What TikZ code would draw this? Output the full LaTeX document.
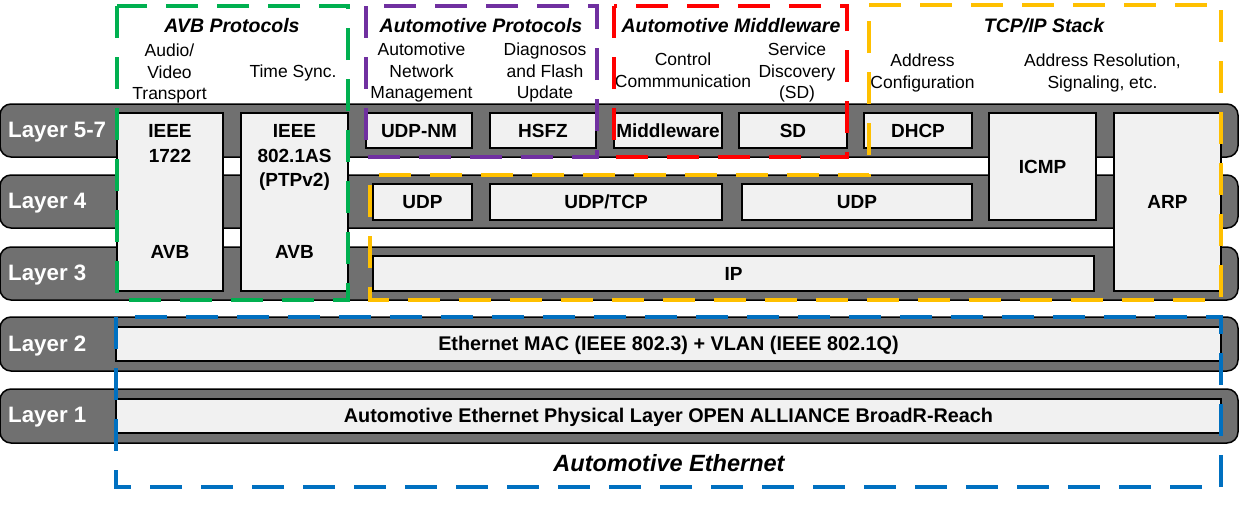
\documentclass[tikz,border=0pt]{standalone}
\usepackage{fontspec}
\setmainfont{Liberation Sans}
\usetikzlibrary{positioning}

\definecolor{bandgray}{HTML}{707070}
\definecolor{boxgray}{HTML}{F1F1F1}
\definecolor{avbgreen}{HTML}{00B050}
\definecolor{protpurple}{HTML}{7030A0}
\definecolor{mwred}{HTML}{FF0000}
\definecolor{tcporange}{HTML}{FFC000}
\definecolor{ethblue}{HTML}{0070C0}

\begin{document}
\begin{tikzpicture}[x=1pt,y=-1pt,
    band/.style={draw=black, line width=1.5pt, fill=bandgray, rounded corners=11pt},
    layer/.style={anchor=base west, text=white, inner sep=0pt,
        font=\fontsize{22.3}{26}\selectfont\bfseries},
    blk/.style={draw=black, line width=1.3pt, fill=boxgray, inner sep=0pt,
        text height=13.6pt, text depth=0pt,
        font=\fontsize{19}{24}\selectfont\bfseries},
    wideblk/.style={blk, font=\fontsize{19.8}{24}\selectfont\bfseries},
    blktext/.style={inner sep=0pt, align=center,
        font=\fontsize{19}{24.5}\selectfont\bfseries},
    head/.style={anchor=base, inner sep=0pt,
        font=\fontsize{19.5}{24}\selectfont\bfseries\itshape},
    sub/.style={anchor=north, inner sep=0pt, align=center,
        font=\fontsize{17.5}{21.5}\selectfont},
    grp/.style={line width=3.5pt, dash pattern=on 32pt off 19pt}]
\useasboundingbox (0,0) rectangle (1240,522);

% layer bands
\draw[band] (0,104) rectangle (1238,157);
\draw[band] (0,175) rectangle (1238,228);
\draw[band] (0,247) rectangle (1238,300);
\draw[band] (0,317) rectangle (1238,371);
\draw[band] (0,389) rectangle (1238,443);
\node[layer] (l57) at (8,137) {Layer 5-7};
\node[layer] (l4) at (8,208) {Layer 4};
\node[layer] (l3) at (8,280) {Layer 3};
\node[layer] (l2) at (8,351) {Layer 2};
\node[layer] (l1) at (8,422) {Layer 1};

% AVB stack
\node[blk, minimum width=106pt, minimum height=178pt] (avbA) at (170,202) {};
\node[blktext, below=12pt of avbA.north] (avbAtop) {IEEE\\1722};
\node[blktext, above=33pt of avbA.south] (avbAbot) {AVB};
\node[blk, minimum width=107pt, minimum height=178pt] (avbB) at (294.5,202) {};
\node[blktext, below=12pt of avbB.north] (avbBtop) {IEEE\\802.1AS\\(PTPv2)};
\node[blktext, above=33pt of avbB.south] (avbBbot) {AVB};

% layer 5-7 blocks
\node[blk, minimum width=106pt, minimum height=35pt] (udpnm) at (419,130.5) {UDP-NM};
\node[blk, minimum width=106pt, minimum height=35pt] (hsfz) at (543,130.5) {HSFZ};
\node[blk, minimum width=108pt, minimum height=35pt] (mw) at (668,130.5) {Middleware};
\node[blk, minimum width=108pt, minimum height=35pt] (sd) at (793,130.5) {SD};
\node[blk, minimum width=108pt, minimum height=35pt] (dhcp) at (918,130.5) {DHCP};
\node[blk, minimum width=107pt, minimum height=107pt] (icmp) at (1042.5,166.5) {ICMP};
\node[blk, minimum width=107pt, minimum height=178pt] (arp) at (1167.5,202) {ARP};

% layer 4 and 3 blocks
\node[blk, minimum width=99pt, minimum height=36pt] (udpA) at (422.5,202) {UDP};
\node[blk, minimum width=232pt, minimum height=36pt] (udptcp) at (606,202) {UDP/TCP};
\node[blk, minimum width=230pt, minimum height=36pt] (udpB) at (857,202) {UDP};
\node[blk, minimum width=721pt, minimum height=35pt] (ip) at (733.5,273.5) {IP};

% layer 2 and 1 blocks
\node[wideblk, minimum width=1105pt, minimum height=34pt] (mac) at (668.5,344) {Ethernet MAC (IEEE 802.3) + VLAN (IEEE 802.1Q)};
\node[wideblk, minimum width=1105pt, minimum height=34pt] (phy) at (668.5,416) {Automotive Ethernet Physical Layer OPEN ALLIANCE BroadR-Reach};

% group titles
\node[head] (hAVB) at (232,32) {AVB Protocols};
\node[head] (hProt) at (481,32) {Automotive Protocols};
\node[head] (hMW) at (731,32) {Automotive Middleware};
\node[head] (hTCP) at (1044,32) {TCP/IP Stack};
\node[head, font=\fontsize{23.5}{26}\selectfont\bfseries\itshape] (hEth) at (669,471) {Automotive Ethernet};

% function descriptions
\node[sub] (dAV) at (169.5,44) {Audio/\\Video\\Transport};
\node[sub] (dTS) at (293,65) {Time Sync.};
\node[sub] (dNM) at (421.5,43) {Automotive\\Network\\Management};
\node[sub] (dDiag) at (545,43) {Diagnosos\\and Flash\\Update};
\node[sub] (dCtrl) at (683,53) {Control\\Commmunication};
\node[sub] (dSD) at (797,43) {Service\\Discovery\\(SD)};
\node[sub] (dAddr) at (922.5,54) {Address\\Configuration};
\node[sub] (dRes) at (1102.5,54) {Address Resolution,\\Signaling, etc.};

% dashed groups
\draw[grp, avbgreen] (117,6) rectangle (348,300);
\draw[grp, protpurple] (366,6) rectangle (597,157);
\draw[grp, mwred] (614,6) rectangle (847,157);
\draw[grp, tcporange] (869,5) -- (1221,5) -- (1221,300) -- (370,300) -- (370,175) -- (869,175) -- cycle;
\draw[grp, ethblue] (116,317) rectangle (1221,487);
\end{tikzpicture}
\end{document}
